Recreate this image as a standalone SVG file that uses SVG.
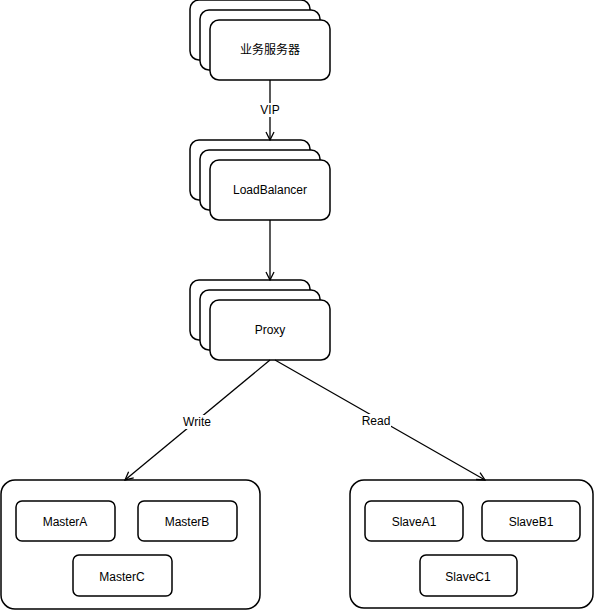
<svg xmlns="http://www.w3.org/2000/svg" width="601" height="611" viewBox="0 0 601 611">
<style>
.b{fill:#fff;stroke:#000;stroke-width:1.5}
.t{font-family:"Liberation Sans","Noto Sans CJK SC",sans-serif;font-size:12px;text-anchor:middle;fill:#000}
.c{stroke:#000;stroke-width:1.3;fill:none}
.lb{fill:#fff}
</style>
<defs><marker id="a" markerWidth="10" markerHeight="10" refX="9" refY="5" orient="auto" markerUnits="userSpaceOnUse"><path d="M1,1 L9,5 L1,9" fill="none" stroke="#000" stroke-width="1.3"/></marker></defs>
<g id="server">
<rect class="b" x="190" y="0" width="120" height="60" rx="9"/>
<rect class="b" x="200" y="10" width="120" height="60" rx="9"/>
<rect class="b" x="210" y="20" width="120" height="60" rx="9"/>
<text class="t" x="270" y="54">业务服务器</text></g>
<g id="lb">
<rect class="b" x="190" y="140" width="120" height="60" rx="9"/>
<rect class="b" x="200" y="150" width="120" height="60" rx="9"/>
<rect class="b" x="210" y="160" width="120" height="60" rx="9"/>
<text class="t" x="270" y="194">LoadBalancer</text></g>
<g id="proxy">
<rect class="b" x="190" y="280" width="120" height="60" rx="9"/>
<rect class="b" x="200" y="290" width="120" height="60" rx="9"/>
<rect class="b" x="210" y="300" width="120" height="60" rx="9"/>
<text class="t" x="270" y="334">Proxy</text></g>
<g id="masters">
<rect class="b" x="1" y="480" width="259" height="129" rx="14"/>
<rect class="b" x="16" y="501" width="99" height="40" rx="6"/><text class="t" x="65" y="526">MasterA</text>
<rect class="b" x="138" y="501" width="99" height="40" rx="6"/><text class="t" x="187" y="526">MasterB</text>
<rect class="b" x="73" y="555" width="99" height="41" rx="6"/><text class="t" x="122" y="581">MasterC</text></g>
<g id="slaves">
<rect class="b" x="350" y="480" width="243" height="128" rx="14"/>
<rect class="b" x="365" y="501" width="98" height="40" rx="6"/><text class="t" x="414" y="526">SlaveA1</text>
<rect class="b" x="482" y="501" width="98" height="40" rx="6"/><text class="t" x="531" y="526">SlaveB1</text>
<rect class="b" x="420" y="555" width="97" height="41" rx="6"/><text class="t" x="468" y="581">SlaveC1</text></g>
<g id="connectors">
<path class="c" d="M270,80 L270,140" marker-end="url(#a)"/>
<rect class="lb" x="259" y="103" width="22" height="14"/><text class="t" x="270" y="114">VIP</text>
<path class="c" d="M270,220 L270,280" marker-end="url(#a)"/>
<path class="c" d="M270,360 L125,480" marker-end="url(#a)"/>
<rect class="lb" x="181" y="415" width="32" height="14"/><text class="t" x="197" y="426">Write</text>
<path class="c" d="M275,360 L485,480" marker-end="url(#a)"/>
<rect class="lb" x="361" y="414" width="30" height="14"/><text class="t" x="376" y="425">Read</text>
</g>
</svg>
